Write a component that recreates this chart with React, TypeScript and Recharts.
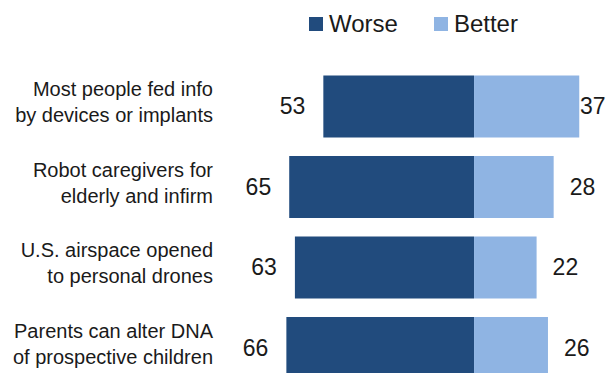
import React from 'react'
import { BarChart, Bar, XAxis, YAxis, Legend, LabelList } from 'recharts'

const categories = [
  ['Most people fed info', 'by devices or implants'],
  ['Robot caregivers for', 'elderly and infirm'],
  ['U.S. airspace opened', 'to personal drones'],
  ['Parents can alter DNA', 'of prospective children'],
]
const worse = [53, 65, 63, 66]
const better = [37, 28, 22, 26]
const seriesNames = ['Worse', 'Better']
const seriesColors = ['#214B7D', '#8FB4E3']

const FONT = '"Liberation Sans", Arial, sans-serif'

const data = categories.map((lines, i) => ({
  name: lines.join('|'),
  worse: -worse[i],
  better: better[i],
}))

const CategoryTick = (props: any) => {
  const { x, y, payload } = props
  const lines = String(payload.value).split('|')
  return (
    <text x={x} y={y} textAnchor="end" fontSize={20} fontFamily={FONT} fill="#1a1a1a">
      <tspan x={x} y={y - 10}>{lines[0]}</tspan>
      <tspan x={x} y={y + 16}>{lines[1]}</tspan>
    </text>
  )
}

const WorseLabel = (props: any) => {
  const { x, y, width, height, value } = props
  const left = Math.min(x, x + width)
  return (
    <text
      x={left - 18}
      y={y + height / 2}
      textAnchor="end"
      dominantBaseline="central"
      fontSize={23}
      fontFamily={FONT}
      fill="#1a1a1a"
    >
      {Math.abs(value)}
    </text>
  )
}

const BetterLabel = (props: any) => {
  const { x, y, width, height, value } = props
  const right = Math.max(x, x + width)
  // keep the label inside the picture
  const tx = Math.min(right + 16, 580)
  return (
    <text
      x={tx}
      y={y + height / 2}
      textAnchor="start"
      dominantBaseline="central"
      fontSize={23}
      fontFamily={FONT}
      fill="#1a1a1a"
    >
      {value}
    </text>
  )
}

const renderLegend = () => (
  <div style={{ display: 'flex', alignItems: 'center', fontFamily: FONT, fontSize: 24, color: '#1a1a1a' }}>
    {seriesNames.map((n, i) => (
      <div key={n} style={{ display: 'flex', alignItems: 'center', marginRight: 36 }}>
        <span style={{ width: 14, height: 14, background: seriesColors[i], marginRight: 6, display: 'inline-block' }} />
        <span style={{ lineHeight: '24px' }}>{n}</span>
      </div>
    ))}
  </div>
)

export default function App() {
  return (
    <div style={{ position: 'absolute', left: 0, top: 0, width: 613, height: 373, overflow: 'hidden', background: '#fff' }}>
      <BarChart
        width={613}
        height={390}
        data={data}
        layout="vertical"
        stackOffset="sign"
        barCategoryGap="11.8%"
        margin={{ top: 66, right: 11, left: 0, bottom: 2 }}
      >
        <XAxis type="number" domain={[-70, 45]} hide />
        <YAxis
          type="category"
          dataKey="name"
          width={275}
          axisLine={false}
          tickLine={false}
          tickSize={0}
          tickMargin={62}
          tick={<CategoryTick />}
          interval={0}
        />
        <Legend
          layout="horizontal"
          verticalAlign="middle"
          align="center"
          content={renderLegend}
          wrapperStyle={{ top: 12, left: 309, width: 'auto' }}
        />
        <Bar dataKey="worse" name="Worse" stackId="a" fill={seriesColors[0]} isAnimationActive={false}>
          <LabelList dataKey="worse" content={<WorseLabel />} />
        </Bar>
        <Bar dataKey="better" name="Better" stackId="a" fill={seriesColors[1]} isAnimationActive={false}>
          <LabelList dataKey="better" content={<BetterLabel />} />
        </Bar>
      </BarChart>
    </div>
  )
}
